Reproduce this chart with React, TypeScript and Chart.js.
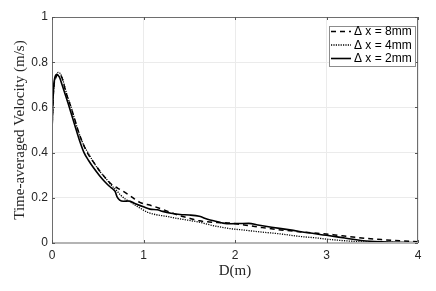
import { useEffect, useRef } from "react";
import { Chart, registerables } from "chart.js";

Chart.register(...registerables);

// ---- data ----
const xTicks = [0, 1, 2, 3, 4];
const yTicks = [0, 0.2, 0.4, 0.6, 0.8, 1];
const seriesLabels = ["Δ x = 8mm", "Δ x = 4mm", "Δ x = 2mm"];
const xTitle = "D(m)";
const yTitle = "Time-averaged Velocity (m/s)";

// Δx = 8mm (dashed)
const d8 = [0, 0.01, 0.02, 0.04, 0.06, 0.08, 0.11, 0.15, 0.2, 0.25, 0.3, 0.35, 0.4, 0.45, 0.52, 0.58, 0.65, 0.72, 0.78, 0.85, 0.96, 1.09, 1.2, 1.3, 1.4, 1.5, 1.61, 1.72, 1.85, 1.94, 2.1, 2.3, 2.5, 2.7, 2.9, 3.07, 3.25, 3.44, 3.6, 3.8, 4.0];
const v8 = [0.49, 0.62, 0.69, 0.73, 0.745, 0.748, 0.73, 0.67, 0.61, 0.545, 0.48, 0.43, 0.39, 0.36, 0.32, 0.29, 0.26, 0.242, 0.228, 0.21, 0.18, 0.165, 0.15, 0.135, 0.12, 0.11, 0.098, 0.093, 0.09, 0.088, 0.08, 0.068, 0.058, 0.05, 0.043, 0.037, 0.028, 0.02, 0.015, 0.01, 0.006];

// Δx = 4mm (dotted)
const d4 = [0, 0.01, 0.02, 0.04, 0.066, 0.09, 0.12, 0.16, 0.21, 0.26, 0.3, 0.35, 0.4, 0.45, 0.52, 0.58, 0.65, 0.7, 0.75, 0.8, 0.88, 0.96, 1.05, 1.14, 1.25, 1.35, 1.5, 1.61, 1.75, 1.94, 2.1, 2.3, 2.5, 2.71, 2.9, 3.0, 3.2, 3.4, 3.6, 3.8, 4.0];
const v4 = [0.49, 0.61, 0.69, 0.735, 0.755, 0.75, 0.72, 0.66, 0.6, 0.53, 0.48, 0.43, 0.395, 0.36, 0.318, 0.29, 0.255, 0.235, 0.212, 0.195, 0.175, 0.155, 0.135, 0.125, 0.118, 0.11, 0.1, 0.092, 0.078, 0.064, 0.057, 0.048, 0.04, 0.029, 0.022, 0.017, 0.01, 0.005, 0.003, 0.002, 0.002];

// Δx = 2mm (solid)
const d2 = [0, 0.01, 0.02, 0.03, 0.05, 0.08, 0.11, 0.15, 0.19, 0.25, 0.3, 0.35, 0.4, 0.45, 0.52, 0.58, 0.63, 0.67, 0.69, 0.71, 0.74, 0.78, 0.84, 0.9, 1.0, 1.07, 1.15, 1.21, 1.3, 1.4, 1.5, 1.61, 1.7, 1.8, 1.87, 1.95, 2.05, 2.15, 2.25, 2.4, 2.6, 2.8, 3.0, 3.2, 3.4, 3.6, 3.8, 4.0];
const v2 = [0.49, 0.63, 0.7, 0.73, 0.745, 0.735, 0.7, 0.65, 0.6, 0.52, 0.455, 0.4, 0.365, 0.335, 0.298, 0.27, 0.25, 0.237, 0.228, 0.205, 0.19, 0.185, 0.186, 0.176, 0.16, 0.15, 0.147, 0.14, 0.132, 0.126, 0.124, 0.118, 0.105, 0.095, 0.088, 0.085, 0.086, 0.087, 0.08, 0.07, 0.058, 0.045, 0.034, 0.022, 0.01, 0.005, 0.003, 0.002];

const dashStyles: number[][] = [[5, 4], [1.2, 1.2], []];
const lineWidths = [1.5, 1.3, 1.6];

const toPts = (xs: number[], ys: number[]) => xs.map((x, i) => ({ x, y: ys[i] }));

const framePlugin = {
  id: "frameAndLegend",
  afterDatasetsDraw(chart: any) {
    const { ctx, chartArea } = chart;
    const { left, right, top, bottom } = chartArea;
    const xs = chart.scales.x;
    const ys = chart.scales.y;
    ctx.save();
    // box
    ctx.strokeStyle = "#6e6e6e";
    ctx.lineWidth = 1;
    ctx.beginPath();
    ctx.moveTo(left + 0.5, bottom);
    ctx.lineTo(left + 0.5, top + 0.5);
    ctx.lineTo(right - 0.5, top + 0.5);
    ctx.lineTo(right - 0.5, bottom);
    ctx.stroke();
    ctx.strokeStyle = "#b4b4b4";
    ctx.lineWidth = 2;
    ctx.beginPath();
    ctx.moveTo(left, bottom);
    ctx.lineTo(right, bottom);
    ctx.stroke();
    // inward ticks
    ctx.strokeStyle = "#555";
    ctx.lineWidth = 1;
    ctx.beginPath();
    xTicks.forEach((t) => {
      const px = Math.round(xs.getPixelForValue(t)) + 0.5;
      ctx.moveTo(px, bottom);
      ctx.lineTo(px, bottom - 3);
      ctx.moveTo(px, top);
      ctx.lineTo(px, top + 3);
    });
    yTicks.forEach((t) => {
      const py = Math.round(ys.getPixelForValue(t)) + 0.5;
      ctx.moveTo(left, py);
      ctx.lineTo(left + 3, py);
      ctx.moveTo(right, py);
      ctx.lineTo(right - 3, py);
    });
    ctx.stroke();

    // legend
    const bx = 329.5, by = 26.5, bw = 86, bh = 40;
    ctx.fillStyle = "#ffffff";
    ctx.fillRect(bx, by, bw, bh);
    ctx.strokeStyle = "#8c8c8c";
    ctx.lineWidth = 1;
    ctx.strokeRect(bx, by, bw, bh);
    const rows = [31.5, 45, 58.5];
    ctx.font = "12px 'Liberation Sans', Arial, sans-serif";
    ctx.textBaseline = "middle";
    ctx.textAlign = "left";
    seriesLabels.forEach((lab, i) => {
      const y = rows[i];
      ctx.strokeStyle = "#000";
      ctx.lineWidth = lineWidths[i];
      ctx.setLineDash(dashStyles[i]);
      ctx.beginPath();
      ctx.moveTo(331, y);
      ctx.lineTo(351, y);
      ctx.stroke();
      ctx.setLineDash([]);
      ctx.fillStyle = "#000";
      ctx.fillText(lab, 354, y + 0.5);
    });
    ctx.restore();
  },
};

export default function App() {
  const ref = useRef<HTMLCanvasElement | null>(null);
  useEffect(() => {
    document.body.style.margin = "0";
    if (!ref.current) return;
    const series = [toPts(d8, v8), toPts(d4, v4), toPts(d2, v2)];
    const chart = new Chart(ref.current, {
      type: "line",
      data: {
        datasets: series.map((data, i) => ({
          label: seriesLabels[i],
          data,
          borderColor: "#000",
          borderWidth: lineWidths[i],
          borderDash: dashStyles[i],
          pointRadius: 0,
          fill: false,
          cubicInterpolationMode: "monotone" as const,
        })),
      },
      options: {
        responsive: false,
        animation: false,
        layout: { padding: { top: 17, right: 18, left: 0, bottom: 0 } },
        plugins: { legend: { display: false }, tooltip: { enabled: false } },
        scales: {
          x: {
            type: "linear",
            min: 0,
            max: 4,
            afterBuildTicks: (s: any) => {
              s.ticks = xTicks.map((v) => ({ value: v }));
            },
            afterFit: (s: any) => {
              s.height = 48;
            },
            ticks: {
              color: "#262626",
              font: { family: "'Liberation Sans', Arial, sans-serif", size: 12 },
              padding: 5,
              maxRotation: 0,
              callback: (v: any) => String(v),
            },
            grid: { color: "#ebebeb", drawTicks: false },
            border: { display: false },
            title: {
              display: true,
              text: xTitle,
              color: "#262626",
              font: { family: "'Liberation Serif', 'Times New Roman', serif", size: 15 },
              padding: { top: 0, bottom: 11 },
            },
          },
          y: {
            type: "linear",
            min: 0,
            max: 1,
            afterBuildTicks: (s: any) => {
              s.ticks = yTicks.map((v) => ({ value: v }));
            },
            afterFit: (s: any) => {
              s.width = 52;
            },
            ticks: {
              color: "#262626",
              font: { family: "'Liberation Sans', Arial, sans-serif", size: 12 },
              padding: 4,
              callback: (v: any) => String(Math.round(Number(v) * 10) / 10),
            },
            grid: { color: "#ebebeb", drawTicks: false },
            border: { display: false },
            title: {
              display: true,
              text: yTitle,
              color: "#262626",
              font: { family: "'Liberation Serif', 'Times New Roman', serif", size: 15 },
              padding: { top: 11, bottom: 0 },
            },
          },
        },
      },
      plugins: [framePlugin],
    });
    return () => chart.destroy();
  }, []);
  return (
    <div style={{ width: 436, height: 291 }}>
      <canvas ref={ref} width={436} height={291} style={{ display: "block" }} />
    </div>
  );
}
